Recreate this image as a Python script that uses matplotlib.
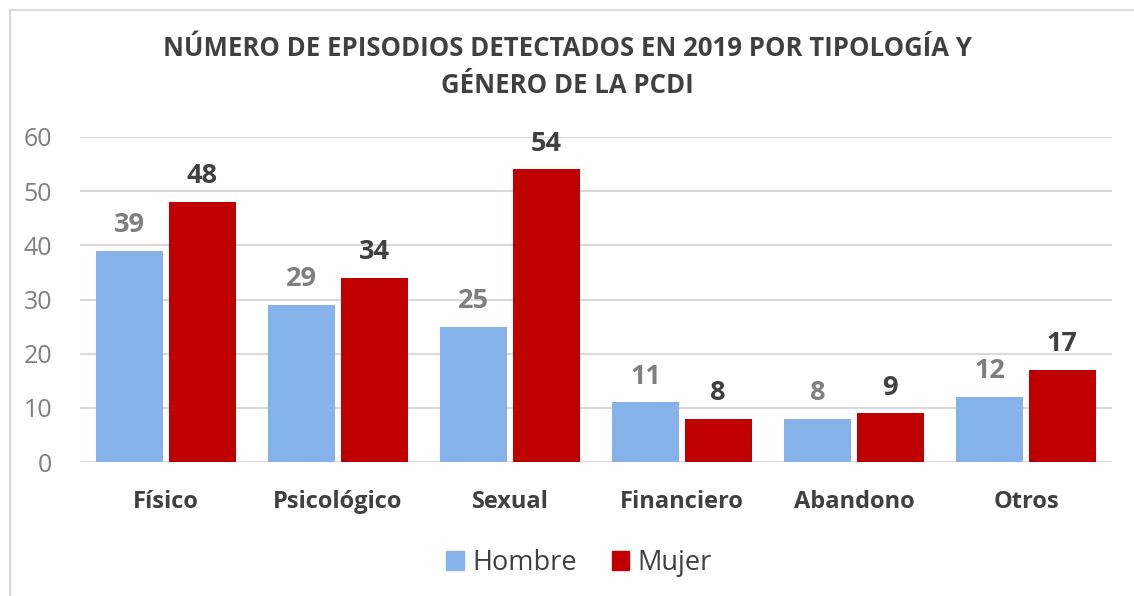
import matplotlib
matplotlib.use("Agg")
import matplotlib.pyplot as plt
from matplotlib.patches import Rectangle, Patch
import numpy as np

categories = ["Físico", "Psicológico", "Sexual", "Financiero", "Abandono", "Otros"]
hombre = [39, 29, 25, 11, 8, 12]
mujer = [48, 34, 54, 8, 9, 17]
series_names = ["Hombre", "Mujer"]
title = "NÚMERO DE EPISODIOS DETECTADOS EN 2019 POR TIPOLOGÍA Y\nGÉNERO DE LA PCDI"
yticks = [0, 10, 20, 30, 40, 50, 60]

plt.rcParams['font.family'] = ['Open Sans', 'DejaVu Sans']

c_h = "#86B2EA"
c_m = "#C00000"
dark = "#404040"
gray = "#7F7F7F"

fig = plt.figure(figsize=(11.34, 5.96), dpi=100)
ax = fig.add_axes([80/1134, (596-462)/596, (1112-80)/1134, (462-137)/596])

x = np.arange(len(categories))
w = 0.39
off = 0.21
ax.bar(x - off, hombre, w, color=c_h, zorder=3)
ax.bar(x + off, mujer, w, color=c_m, zorder=3)

for xi, v in zip(x - off, hombre):
    ax.annotate(str(v), (xi, v), xytext=(0, 9), textcoords="offset points",
                ha="center", va="bottom", fontsize=19.5, fontweight="bold", color=gray)
for xi, v in zip(x + off, mujer):
    ax.annotate(str(v), (xi, v), xytext=(0, 9), textcoords="offset points",
                ha="center", va="bottom", fontsize=19.5, fontweight="bold", color=dark)

ax.set_xlim(-0.5, len(categories) - 0.5)
ax.set_ylim(0, 60)
ax.set_yticks(yticks)
ax.set_yticklabels([str(t) for t in yticks], fontsize=18, color=gray)
ax.set_xticks(x)
ax.set_xticklabels(categories, fontsize=17, fontweight="bold", color=dark)
ax.tick_params(axis="both", length=0)
ax.tick_params(axis="y", pad=20)
ax.tick_params(axis="x", pad=20)
ax.grid(axis="y", color="#D9D9D9", linewidth=1.5, zorder=0)
for s in ax.spines.values():
    s.set_visible(False)

fig.text(0.5, 1 - 67/596, title, ha="center", va="center", fontsize=18.5,
         fontweight="bold", color=dark, linespacing=1.45)

handles = [Patch(color=c_h), Patch(color=c_m)]
fig.legend(handles, series_names, loc="center", bbox_to_anchor=(579/1134, 1 - 563/596),
           ncol=2, frameon=False, fontsize=19.5, labelcolor=dark,
           handlelength=0.65, handleheight=0.65, handletextpad=0.3, columnspacing=1.3)

fig.patches.append(Rectangle((10/1134, -0.05), 1.2, (586/596) + 0.05,
                             transform=fig.transFigure, fill=False,
                             edgecolor="#D9D9D9", linewidth=1.5))

fig.savefig("out.png", dpi=100)
